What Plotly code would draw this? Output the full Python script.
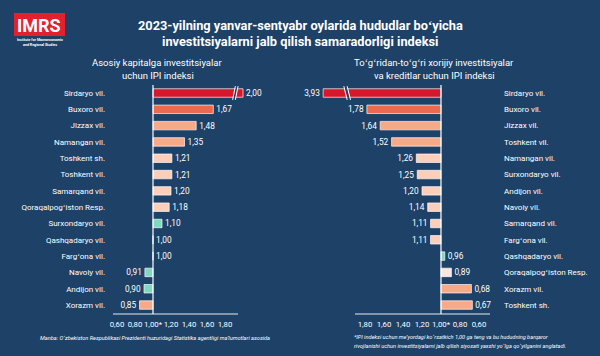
import plotly.graph_objects as go

# ---------------- data ----------------
left_regions = ["Sirdaryo vil.", "Buxoro vil.", "Jizzax vil.", "Namangan vil.", "Toshkent sh.",
                "Toshkent vil.", "Samarqand vil.", "Qoraqalpogʻiston Resp.", "Surxondaryo vil.",
                "Qashqadaryo vil.", "Fargʻona vil.", "Navoiy vil.", "Andijon vil.", "Xorazm vil."]
left_values = [2.00, 1.67, 1.48, 1.35, 1.21, 1.21, 1.20, 1.18, 1.10, 1.00, 1.00, 0.91, 0.90, 0.85]

right_regions = ["Sirdaryo vil.", "Buxoro vil.", "Jizzax vil.", "Toshkent vil.", "Namangan vil.",
                 "Surxondaryo vil.", "Andijon vil.", "Navoiy vil.", "Samarqand vil.", "Fargʻona vil.",
                 "Qashqadaryo vil.", "Qoraqalpogʻiston Resp.", "Xorazm vil.", "Toshkent sh."]
right_values = [3.93, 1.78, 1.64, 1.52, 1.26, 1.25, 1.20, 1.14, 1.11, 1.11, 0.96, 0.89, 0.68, 0.67]

left_ticks = [0.60, 0.80, 1.00, 1.20, 1.40, 1.60, 1.80]
right_ticks = [1.80, 1.60, 1.40, 1.20, 1.00, 0.80, 0.60]
norm = 1.00  # normative value of the IPI index

# ---------------- styles ----------------
RED, ORANGE, SALMON, PEACH, TEAL, PINK = "#d5192c", "#ec6a4e", "#f8a987", "#fdcfbb", "#80d8bf", "#fbe6de"
left_colors = [RED, ORANGE, SALMON, SALMON, PEACH, PEACH, PEACH, PEACH, TEAL, TEAL, TEAL, TEAL, TEAL, SALMON]
right_colors = [RED, ORANGE, SALMON, SALMON, PEACH, PEACH, PEACH, PEACH, PEACH, PEACH, TEAL, PINK, SALMON, SALMON]
BG = "#1d4167"
W, H = 600, 356
FONT = "Roboto"

def px(x):
    return x / W

def py(y):
    return 1 - y / H

def fmt(v):
    return f"{v:.2f}".replace(".", ",")

# broken-axis caps for the longest bars
left_cap, right_cap = 2.00, 2.24
left_disp = [min(v, left_cap) for v in left_values]
right_disp = [min(v, right_cap) for v in right_values]

n = len(left_regions)
yd = [py(313.2), py(84.85)]

fig = go.Figure()
fig.add_trace(go.Bar(
    y=list(range(n)), x=[v - norm for v in left_disp], base=norm, orientation="h",
    marker=dict(color=left_colors, line=dict(color="rgba(255,255,255,0.85)", width=0.8)),
    text=[fmt(v) for v in left_values], textposition="outside", textangle=0,
    textfont=dict(color="white", size=8.3, family=FONT), cliponaxis=False,
    width=0.52, xaxis="x", yaxis="y", showlegend=False, constraintext="none", hoverinfo="skip"))
fig.add_trace(go.Bar(
    y=list(range(n)), x=[v - norm for v in right_disp], base=norm, orientation="h",
    marker=dict(color=right_colors, line=dict(color="rgba(255,255,255,0.85)", width=0.8)),
    text=[fmt(v) for v in right_values], textposition="outside", textangle=0,
    textfont=dict(color="white", size=8.3, family=FONT), cliponaxis=False,
    width=0.52, xaxis="x2", yaxis="y2", showlegend=False, constraintext="none", hoverinfo="skip"))

axis_font = dict(color="white", size=7.8, family=FONT)
cat_font = dict(color="white", size=8, family=FONT)
fig.update_layout(
    width=W, height=H, margin=dict(l=0, r=0, t=0, b=0, autoexpand=False),
    paper_bgcolor=BG, plot_bgcolor="rgba(0,0,0,0)",
    font=dict(family=FONT, color="white"),
    xaxis=dict(domain=[px(108), px(252)], range=[0.5, 2.1], anchor="y", automargin=False,
               tickvals=left_ticks, ticktext=[fmt(t) + ("*" if t == norm else "") for t in left_ticks],
               tickfont=axis_font, tickangle=0, showgrid=False, zeroline=False, showline=False, ticks="",
               ticklabelstandoff=5),
    yaxis=dict(domain=yd, range=[n - 0.5, -0.5], anchor="x", automargin=False,
               tickvals=list(range(n)), ticktext=left_regions, tickfont=cat_font,
               showgrid=False, zeroline=False, showline=False, ticks="", ticklabelstandoff=2),
    xaxis2=dict(domain=[px(315), px(498)], range=[2.326, 0.40], anchor="y2", automargin=False,
                tickvals=right_ticks, ticktext=[fmt(t) + ("*" if t == norm else "") for t in right_ticks],
                tickfont=axis_font, tickangle=0, showgrid=False, zeroline=False, showline=False, ticks="",
                ticklabelstandoff=5),
    yaxis2=dict(domain=yd, range=[n - 0.5, -0.5], anchor="x2", side="right", automargin=False,
                tickvals=list(range(n)), ticktext=right_regions, tickfont=cat_font,
                showgrid=False, zeroline=False, showline=False, ticks="", ticklabelstandoff=5),
)

shapes = []
# baselines at the normative value and bottom axis lines
for xr in ("x", "x2"):
    shapes.append(dict(type="line", xref=xr, yref="paper", x0=norm, x1=norm, y0=py(314), y1=py(85),
                       line=dict(color="white", width=1.2)))
shapes.append(dict(type="line", xref="paper", yref="paper", x0=px(113), x1=px(238), y0=py(314), y1=py(314),
                   line=dict(color="rgba(255,255,255,0.9)", width=1)))
shapes.append(dict(type="line", xref="paper", yref="paper", x0=px(355), x1=px(490), y0=py(314), y1=py(314),
                   line=dict(color="rgba(255,255,255,0.9)", width=1)))
# break marks on the longest bars ("//" on the left, "\\" on the right)
for xr, yr, xb, dx in (("x", "y", 1.90, 0.03), ("x2", "y2", 1.97, 0.035)):
    shapes.append(dict(type="path", xref=xr, yref=yr,
                       path=f"M {xb - dx*0.3},{0.32} L {xb + dx*0.7},{-0.32} L {xb + dx*1.3},{-0.32} L {xb + dx*0.3},{0.32} Z",
                       fillcolor=BG, line=dict(width=0)))
    for off in (0, dx * 1.0):
        shapes.append(dict(type="line", xref=xr, yref=yr,
                           x0=xb - dx*0.5 + off, x1=xb + dx*0.5 + off, y0=0.42, y1=-0.42,
                           line=dict(color="white", width=1)))
# logo box
shapes.append(dict(type="rect", xref="paper", yref="paper", x0=px(14), x1=px(65), y0=py(36), y1=py(13),
                   fillcolor="#e3202e", line=dict(width=0)))
fig.update_layout(shapes=shapes)

ann = []
def text(x, y, s, size, bold=False, italic=False, align="center", xanchor="center", color="white"):
    if bold:
        s = f"<b>{s}</b>"
    if italic:
        s = f"<i>{s}</i>"
    ann.append(dict(x=px(x), y=py(y), xref="paper", yref="paper", text=s, showarrow=False,
                    font=dict(size=size, color=color, family=FONT), align=align,
                    xanchor=xanchor, yanchor="middle"))

text(300, 25, "2023-yilning yanvar-sentyabr oylarida hududlar boʻyicha", 12.8, bold=True)
text(300, 41, "investitsiyalarni jalb qilish samaradorligi indeksi", 12.8, bold=True)
text(158, 63, "Asosiy kapitalga investitsiyalar", 9.5)
text(158, 76, "uchun IPI indeksi", 9.5)
text(434, 63, "Toʻgʻridan-toʻgʻri xorijiy investitsiyalar", 9.5)
text(434, 76, "va kreditlar uchun IPI indeksi", 9.5)
text(155, 338, "Manba: Oʻzbekiston Respublikasi Prezidenti huzuridagi Statistika agentligi maʼlumotlari asosida", 5.6, italic=True)
text(352, 337, "*IPI indeksi uchun meʼyordagi koʻrsatkich 1,00 ga teng va bu hududning barqaror", 5.6, italic=True, xanchor="left")
text(352, 346, "rivojlanishi uchun investitsiyalarni jalb qilish siyosati yaxshi yoʻlga qoʻyilganini anglatadi.", 5.6, italic=True, xanchor="left")
text(39.5, 25, "IMRS", 18, bold=True)
text(40, 40, "Institute for Macroeconomic", 3.6, bold=True)
text(40, 44.5, "and Regional Studies", 3.6, bold=True)
fig.update_layout(annotations=ann)

fig.write_html("out.html", config={"displayModeBar": False, "staticPlot": True},
               post_script="document.body.style.margin='0';document.body.style.padding='0';"
                           "document.body.style.overflow='hidden';")
